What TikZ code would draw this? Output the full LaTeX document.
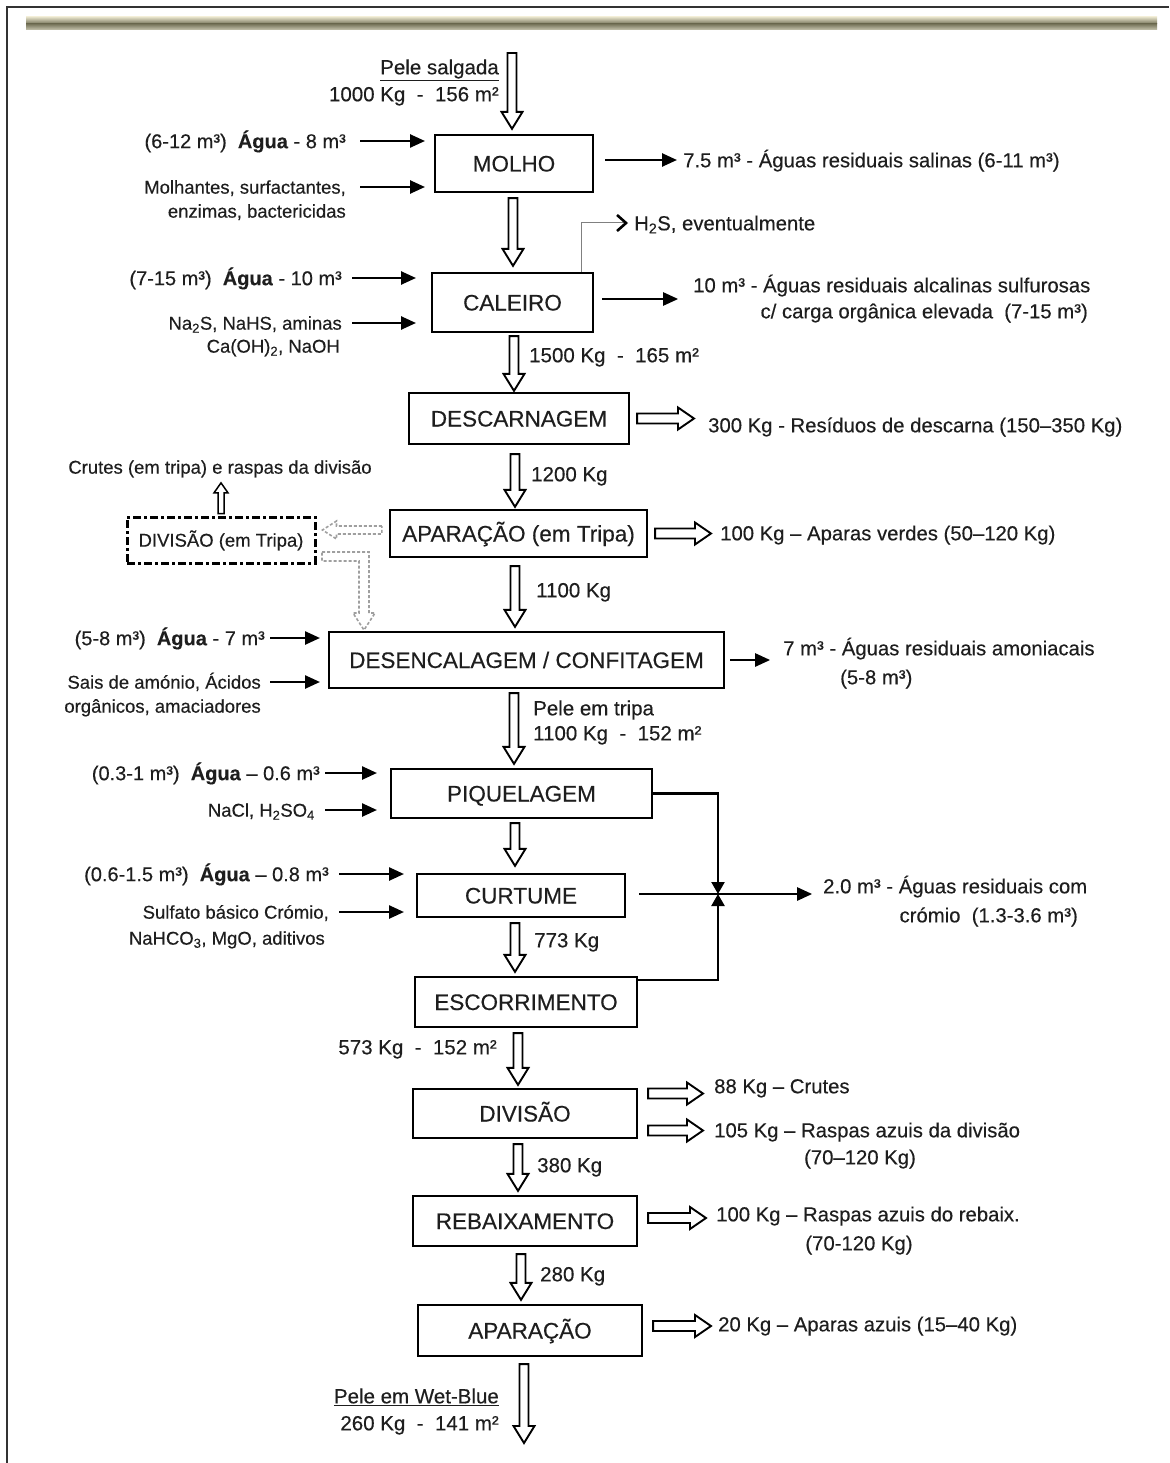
\documentclass[tikz,border=0pt]{standalone}
\usepackage{fontspec}
\setmainfont{Liberation Sans}[FakeBold=0.3]
\usetikzlibrary{arrows.meta,calc}
\newcommand\boxfnt{\fontsize{22.5}{26}\selectfont}
\newcommand\flowfnt{\fontsize{20.5}{24}\selectfont}
\newcommand\outfnt{\fontsize{20.3}{24}\selectfont}
\newcommand\infnt{\fontsize{18.5}{22}\selectfont}
\newcommand\watfnt{\fontsize{20}{24}\selectfont}
\definecolor{txt}{HTML}{1E1E1E}
\definecolor{barlight}{HTML}{E4E0C8}
\definecolor{bardark}{HTML}{76745A}
\definecolor{barlow}{HTML}{C8C6B0}
\begin{document}
\begin{tikzpicture}[x=1pt,y=-1pt,
  every node/.style={text=txt},
  box/.style={draw, line width=2.3pt, inner sep=0pt, font=\boxfnt, text height=16pt, text depth=0pt},
  it/.style={inner sep=0pt, font=\infnt, text height=13.3pt, text depth=0pt},
  wt/.style={inner sep=0pt, font=\watfnt, text height=14.4pt, text depth=0pt},
  ot/.style={inner sep=0pt, font=\outfnt, text height=14.6pt, text depth=0pt},
  ft/.style={inner sep=0pt, font=\flowfnt, text height=14.6pt, text depth=0pt},
  inarr/.style={line width=2.5pt, -{Triangle[length=15pt,width=13pt]}},
  jarr/.style={line width=2.3pt, -{Triangle[length=12pt,width=13pt]}},
  hol/.style={draw=black, fill=white, line width=1.9pt, line join=miter},
  ghol/.style={draw=gray!75, fill=white, line width=1.6pt, dash pattern=on 3pt off 2pt},
  hd/.style={to path={let \p1=(\tikztostart), \p2=(\tikztotarget) in
    (\x1-4.5pt,\y1) -- (\x1-4.5pt,\y2+17pt) -- (\x1-10.5pt,\y2+17pt) -- (\x1,\y2)
    -- (\x1+10.5pt,\y2+17pt) -- (\x1+4.5pt,\y2+17pt) -- (\x1+4.5pt,\y1) -- cycle}},
  hu/.style={to path={let \p1=(\tikztostart), \p2=(\tikztotarget) in
    (\x1-3pt,\y1) -- (\x1-3pt,\y2-10pt) -- (\x1-7pt,\y2-10pt) -- (\x1,\y2)
    -- (\x1+7pt,\y2-10pt) -- (\x1+3pt,\y2-10pt) -- (\x1+3pt,\y1) -- cycle}},
  hr/.style={to path={let \p1=(\tikztostart), \p2=(\tikztotarget) in
    (\x1,\y1+5pt) -- (\x2-16pt,\y1+5pt) -- (\x2-16pt,\y1+11pt) -- (\x2,\y1)
    -- (\x2-16pt,\y1-11pt) -- (\x2-16pt,\y1-5pt) -- (\x1,\y1-5pt) -- cycle}},
  hl/.style={to path={let \p1=(\tikztostart), \p2=(\tikztotarget) in
    (\x1,\y1+4pt) -- (\x2+14pt,\y1+4pt) -- (\x2+14pt,\y1+9pt) -- (\x2,\y1)
    -- (\x2+14pt,\y1-9pt) -- (\x2+14pt,\y1-4pt) -- (\x1,\y1-4pt) -- cycle}}
]
\useasboundingbox (0,0) rectangle (1169,1463);
\fill[white] (0,0) rectangle (1169,1463);
% frame and header bar
\draw[line width=1.5pt, black!80] (7,1463) -- (7,7) -- (1169,7);
\shade[top color=barlight, bottom color=bardark] (26,17) rectangle (1157,24);
\shade[top color=bardark, bottom color=barlow] (26,24) rectangle (1157,30);

% ---------- process boxes ----------
\node[box, minimum width=158pt, minimum height=57pt] (molho) at (514,163.5) {MOLHO};
\node[box, minimum width=161pt, minimum height=59pt] (caleiro) at (512.5,302.5) {CALEIRO};
\node[box, minimum width=220pt, minimum height=51pt] (descarn) at (519,418.5) {DESCARNAGEM};
\node[box, minimum width=257pt, minimum height=47pt] (aparT) at (518.5,533.5) {APARAÇÃO (em Tripa)};
\node[draw, line width=3pt, dash pattern=on 8pt off 3pt on 3pt off 3pt, inner sep=0pt,
      font=\infnt, text height=13.3pt, text depth=0pt,
      minimum width=188pt, minimum height=46pt] (divT) at (221,540) {DIVISÃO (em Tripa)};
\node[box, minimum width=395pt, minimum height=56pt] (desenc) at (526.5,660) {DESENCALAGEM / CONFITAGEM};
\node[box, minimum width=261pt, minimum height=49pt] (piquel) at (521.5,793.5) {PIQUELAGEM};
\node[box, minimum width=208pt, minimum height=43pt] (curtume) at (521,895.5) {CURTUME};
\node[box, minimum width=222pt, minimum height=50pt] (escorr) at (526,1002) {ESCORRIMENTO};
\node[box, minimum width=224pt, minimum height=49pt] (divisao) at (525,1113.5) {DIVISÃO};
\node[box, minimum width=224pt, minimum height=50pt] (rebaix) at (525,1221) {REBAIXAMENTO};
\node[box, minimum width=224pt, minimum height=51pt] (aparacao) at (530,1330.5) {APARAÇÃO};

% ---------- texts ----------
\node[ft, anchor=east] (tPS) at (499,67) {\underline{Pele salgada}};
\node[ft, anchor=east] (tPS2) at (499,94) {1000 Kg~~-~~156 m²};
\coordinate (cin) at (512,53);

\node[wt, anchor=east] (tW1) at (346,141) {(6-12 m³)~~\textbf{Água} - 8 m³};
\node[it, anchor=east] (tM1) at (346,187) {Molhantes, surfactantes,};
\node[it, anchor=east] (tM2) at (346,211) {enzimas, bactericidas};
\node[ot, anchor=west] (t75) at (683,160) {7.5 m³ - Águas residuais salinas (6-11 m³)};

\node[ot, anchor=west] (tH2S) at (634,223) {H\textsubscript{2}S, eventualmente};

\node[wt, anchor=east] (tW2) at (342,278) {(7-15 m³)~~\textbf{Água} - 10 m³};
\node[it, anchor=east] (tN2) at (342,323) {Na\textsubscript{2}S, NaHS, aminas};
\node[it, anchor=east] (tN3) at (340,346) {Ca(OH)\textsubscript{2}, NaOH};
\node[ot, anchor=west] (t10a) at (693,285) {10 m³ - Águas residuais alcalinas sulfurosas};
\node[ot, anchor=east] (t10b) at (1088,311) {c/ carga orgânica elevada~~(7-15 m³)};

\node[ft, anchor=west] (f1500) at (529,355) {1500 Kg~~-~~165 m²};
\node[ot, anchor=west] (t300) at (708,425) {300 Kg - Resíduos de descarna (150–350 Kg)};
\node[ft, anchor=west] (f1200) at (531,474) {1200 Kg};

\node[it] (tCr) at (220,467) {Crutes (em tripa) e raspas da divisão};
\node[ot, anchor=west] (t100v) at (720,533) {100 Kg – Aparas verdes (50–120 Kg)};
\node[ft, anchor=west] (f1100) at (536,590) {1100 Kg};

\node[wt, anchor=east] (tW3) at (265,638) {(5-8 m³)~~\textbf{Água} - 7 m³};
\node[it, anchor=east] (tS1) at (261,682) {Sais de amónio, Ácidos};
\node[it, anchor=east] (tS2) at (261,706) {orgânicos, amaciadores};
\node[ot, anchor=west] (t7a) at (783,648) {7 m³ - Águas residuais amoniacais};
\node[ot, anchor=west] (t7b) at (840,677) {(5-8 m³)};

\node[ft, anchor=west] (fPT) at (533,708) {Pele em tripa};
\node[ft, anchor=west] (fPT2) at (533,733) {1100 Kg~~-~~152 m²};

\node[wt, anchor=east] (tW4) at (320,773) {(0.3-1 m³)~~\textbf{Água} – 0.6 m³};
\node[it, anchor=east] (tNa) at (315,810) {NaCl, H\textsubscript{2}SO\textsubscript{4}};

\node[wt, anchor=east] (tW5) at (329,874) {(0.6-1.5 m³)~~\textbf{Água} – 0.8 m³};
\node[it, anchor=east] (tSu1) at (329,912) {Sulfato básico Crómio,};
\node[it, anchor=east] (tSu2) at (325,938) {NaHCO\textsubscript{3}, MgO, aditivos};
\node[ot, anchor=west] (t20a) at (823,886) {2.0 m³ - Águas residuais com};
\node[ot, anchor=east] (t20b) at (1078,915) {crómio~~(1.3-3.6 m³)};

\node[ft, anchor=west] (f773) at (534,940) {773 Kg};
\node[ft, anchor=east] (f573) at (497,1047) {573 Kg~~-~~152 m²};

\node[ot, anchor=west] (t88) at (714,1086) {88 Kg – Crutes};
\node[ot, anchor=west] (t105) at (714,1130) {105 Kg – Raspas azuis da divisão};
\node[ot] (t105b) at (860,1157) {(70–120 Kg)};
\node[ft, anchor=west] (f380) at (537,1165) {380 Kg};

\node[ot, anchor=west] (t100r) at (716,1214) {100 Kg – Raspas azuis do rebaix.};
\node[ot] (t100rb) at (859,1243) {(70-120 Kg)};
\node[ft, anchor=west] (f280) at (540,1274) {280 Kg};

\node[ot, anchor=west] (t20) at (718,1324) {20 Kg – Aparas azuis (15–40 Kg)};
\node[ft, anchor=east] (tWB) at (499,1396) {\underline{Pele em Wet-Blue}};
\node[ft, anchor=east] (tWB2) at (499,1423) {260 Kg~~-~~141 m²};
\coordinate (cout) at (524,1443);

% ---------- main hollow arrows ----------
\draw[hol] (cin) to[hd] ([yshift=5pt]molho.north);
\draw[hol] ([xshift=-1pt,yshift=-5pt]molho.south) to[hd] ([yshift=6pt]caleiro.north);
\draw[hol] ([xshift=1.5pt,yshift=-3pt]caleiro.south) to[hd] ([yshift=1pt]descarn.north);
\draw[hol] ([xshift=-4pt,yshift=-9pt]descarn.south) to[hd] ([yshift=2pt]aparT.north);
\draw[hol] ([xshift=-3.5pt,yshift=-8pt]aparT.south) to[hd] ([yshift=4pt]desenc.north);
\draw[hol] ([xshift=-12.5pt,yshift=-4pt]desenc.south) to[hd] ([yshift=4pt]piquel.north);
\draw[hol] ([xshift=-6.5pt,yshift=-4pt]piquel.south) to[hd] ([yshift=7pt]curtume.north);
\draw[hol] ([xshift=-6pt,yshift=-5pt]curtume.south) to[hd] ([yshift=4pt]escorr.north);
\draw[hol] ([xshift=-8pt,yshift=-5pt]escorr.south) to[hd] ([yshift=3pt]divisao.north);
\draw[hol] ([xshift=-7pt,yshift=-5pt]divisao.south) to[hd] ([yshift=4pt]rebaix.north);
\draw[hol] ([xshift=-4pt,yshift=-7pt]rebaix.south) to[hd] ([yshift=4pt]aparacao.north);
\draw[hol] ([xshift=-6pt,yshift=-7pt]aparacao.south) to[hd] (cout);

% side hollow arrows
\draw[hol] ([xshift=7pt]descarn.east) to[hr] ([xshift=-14pt]t300.west);
\draw[hol] ([xshift=7pt]aparT.east) to[hr] ([xshift=-9pt]t100v.west);
\draw[hol] ([xshift=10pt,yshift=20pt]divisao.east) to[hr] ([xshift=-11pt]t88.west);
\draw[hol] ([xshift=10pt,yshift=-17pt]divisao.east) to[hr] ([xshift=-11pt]t105.west);
\draw[hol] ([xshift=10pt,yshift=3pt]rebaix.east) to[hr] ([xshift=-10pt]t100r.west);
\draw[hol] ([xshift=10pt,yshift=4.5pt]aparacao.east) to[hr] ([xshift=-7pt]t20.west);
\draw[hol, line width=1.5pt] ([yshift=2pt]divT.north) to[hu] ([yshift=-9pt]tCr.south);

% dashed grey hollow arrows (optional route)
\draw[ghol] ([xshift=-7pt,yshift=3.5pt]aparT.west) to[hl] ([xshift=6pt]divT.east);
\draw[ghol] (322,552) -- (369,552) -- (369,613) -- (375,613) -- (364,630) -- (353,613)
  -- (359,613) -- (359,561) -- (322,561) -- cycle;

% ---------- thin arrows ----------
\draw[inarr] ([xshift=14pt]tW1.east) -- ++(65,0);
\draw[inarr] ([xshift=14pt]tM1.east) -- ++(65,0);
\draw[inarr] ([xshift=11pt,yshift=3.5pt]molho.east) -- ([xshift=-6pt]t75.west);

\draw[gray, line width=1pt, -{Straight Barb[length=9pt,width=16pt,line width=2.6pt,black]}]
  ([xshift=-13pt]caleiro.north east) |- ([xshift=-6pt]tH2S.west);

\draw[inarr] ([xshift=10pt]tW2.east) -- ++(64,0);
\draw[inarr] ([xshift=10pt]tN2.east) -- ++(64,0);
\draw[inarr] ([xshift=8pt,yshift=3.5pt]caleiro.east) -- ++(76,0);

\draw[inarr] ([xshift=5pt]tW3.east) -- ++(50,0);
\draw[inarr] ([xshift=9pt]tS1.east) -- ++(50,0);
\draw[inarr] ([xshift=5pt]desenc.east) -- ++(40,0);

\draw[inarr] ([xshift=5pt]tW4.east) -- ++(52,0);
\draw[inarr] ([xshift=10pt]tNa.east) -- ++(52,0);

\draw[inarr] ([xshift=10pt]tW5.east) -- ++(65,0);
\draw[inarr] ([xshift=10pt]tSu1.east) -- ++(65,0);

% chromium effluent junction
\coordinate (J) at (718,894);
\draw[jarr] (piquel.east) -| (J);
\draw[jarr] ([yshift=-4pt]escorr.north east) -| (J);
\draw[inarr] ([xshift=13pt,yshift=1.5pt]curtume.east) -- ++(173,0);
\end{tikzpicture}
\end{document}
